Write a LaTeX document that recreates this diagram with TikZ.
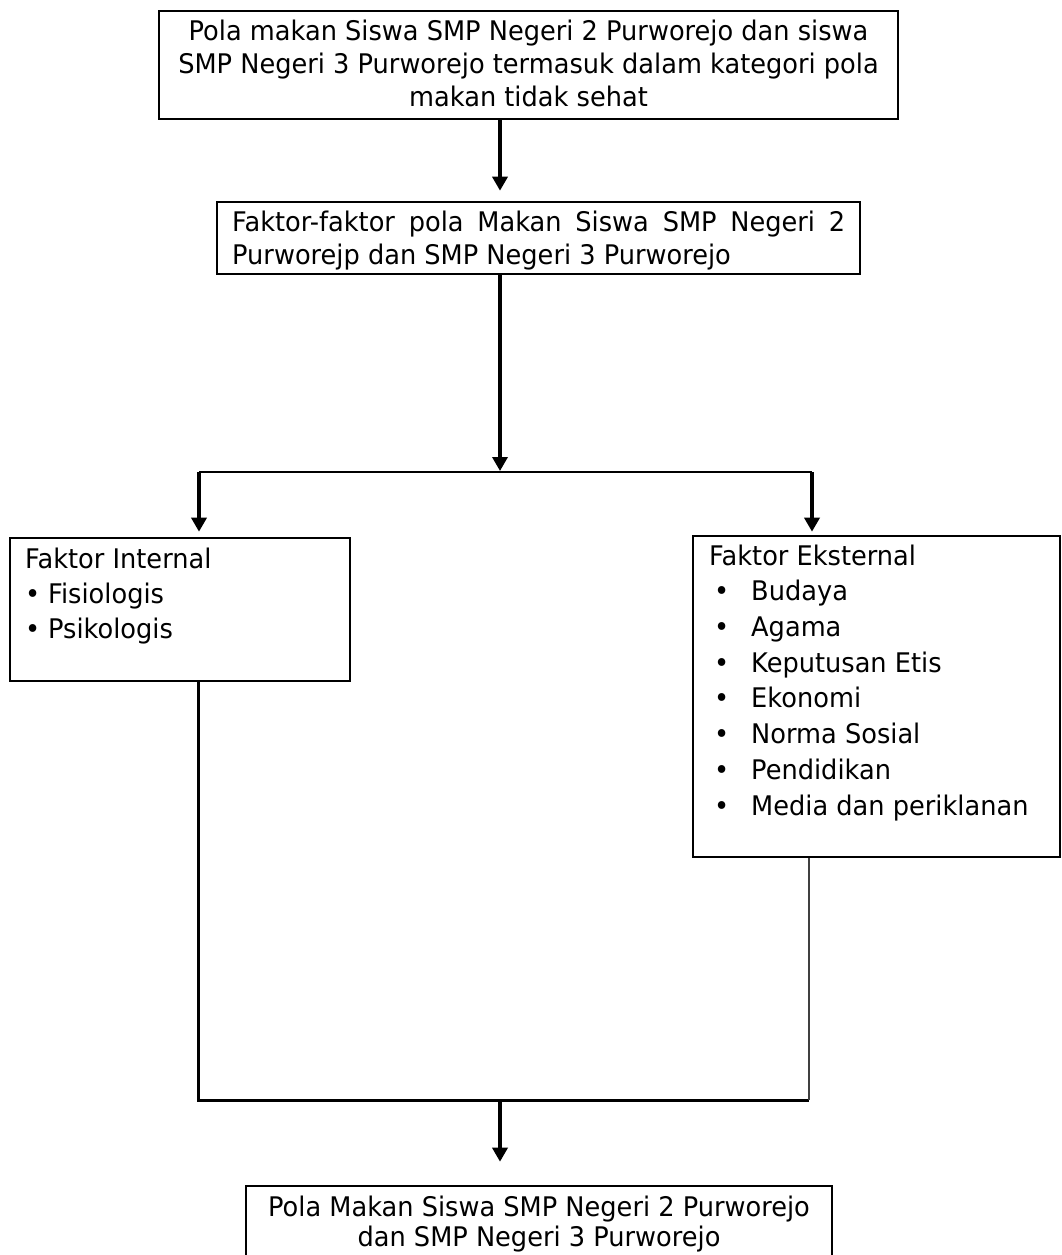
\documentclass[tikz,border=0pt]{standalone}
\usepackage{fontspec}
\setmainfont{DejaVu Sans}[FakeStretch=0.95]
\usetikzlibrary{arrows.meta}
\newcommand\bulitem[2]{\hbox to #1{\hspace{#2}\textbullet\hss}}
\begin{document}
\begin{tikzpicture}[x=1pt,y=-1pt,
  box/.style={draw=black,line width=2.6pt,rectangle,inner sep=0pt},
  txt/.style={inner sep=0pt,font=\fontsize{27pt}{33pt}\selectfont},
  arr/.style={line width=3.4pt,-{Triangle[width=15pt,length=14pt]}},
  conn/.style={line width=2.6pt},
  thinconn/.style={line width=1.3pt,draw=black!75}]
\useasboundingbox (0,0) rectangle (1062,1255);
\fill[white] (0,0) rectangle (1062,1255);

% boxes
\node[box,minimum width=739pt,minimum height=108pt] (top) at (528.5,65) {};
\node[box,minimum width=643pt,minimum height=72pt] (mid) at (538.5,238) {};
\node[box,minimum width=340pt,minimum height=143pt] (int) at (180,609.5) {};
\node[box,minimum width=367pt,minimum height=321pt] (ext) at (876.5,696.5) {};
\node[box,minimum width=586pt,minimum height=80pt] (bot) at (539,1226) {};

% texts (base anchor = baseline of the last line)
\node[txt,anchor=base,align=center] (topT) at (528.5,106)
  {Pola makan Siswa SMP Negeri 2 Purworejo dan siswa\\
   SMP Negeri 3 Purworejo termasuk dalam kategori pola\\
   makan tidak sehat};
\node[txt,anchor=base west,align=left] (midT) at (232,264)
  {\makebox[613pt][s]{Faktor-faktor pola Makan Siswa SMP Negeri 2}\\
   Purworejp dan SMP Negeri 3 Purworejo};
\node[txt,anchor=base west,align=left,font=\fontsize{27pt}{35pt}\selectfont] (intT) at (25,638)
  {Faktor Internal\\
   \bulitem{23pt}{0pt}Fisiologis\\
   \bulitem{23pt}{0pt}Psikologis};
\node[txt,anchor=base west,align=left,font=\fontsize{27pt}{35.7pt}\selectfont] (extT) at (709,815)
  {Faktor Eksternal\\
   \bulitem{42pt}{5pt}Budaya\\
   \bulitem{42pt}{5pt}Agama\\
   \bulitem{42pt}{5pt}Keputusan Etis\\
   \bulitem{42pt}{5pt}Ekonomi\\
   \bulitem{42pt}{5pt}Norma Sosial\\
   \bulitem{42pt}{5pt}Pendidikan\\
   \bulitem{42pt}{5pt}Media dan periklanan};
\node[txt,anchor=base,align=center,font=\fontsize{27pt}{30pt}\selectfont] (botT) at (539,1246)
  {Pola Makan Siswa SMP Negeri 2 Purworejo\\
   dan SMP Negeri 3 Purworejo};

% connector points
\coordinate (split) at (500,472);
\coordinate (hl) at (199,472);
\coordinate (hr) at (812,472);
\coordinate (bl) at (198,1100);
\coordinate (br) at (809,1100);
\coordinate (join) at (500,1100);

% connectors
\draw[arr,shorten >=10pt] (split |- top.south) -- (split |- mid.north);
\draw[arr,shorten >=1pt] (split |- mid.south) -- (split);
\draw[conn] (hl) -- (hr);
\draw[arr,shorten >=5pt] (hl) -- (hl |- int.north);
\draw[arr,shorten >=3pt] (hr) -- (hr |- ext.north);
\draw[conn,line width=3pt] (bl |- int.south) -- (bl) -- (br);
\draw[thinconn] (br |- ext.south) -- (br);
\draw[arr,shorten >=23pt] (join) -- (join |- bot.north);
\end{tikzpicture}
\end{document}
